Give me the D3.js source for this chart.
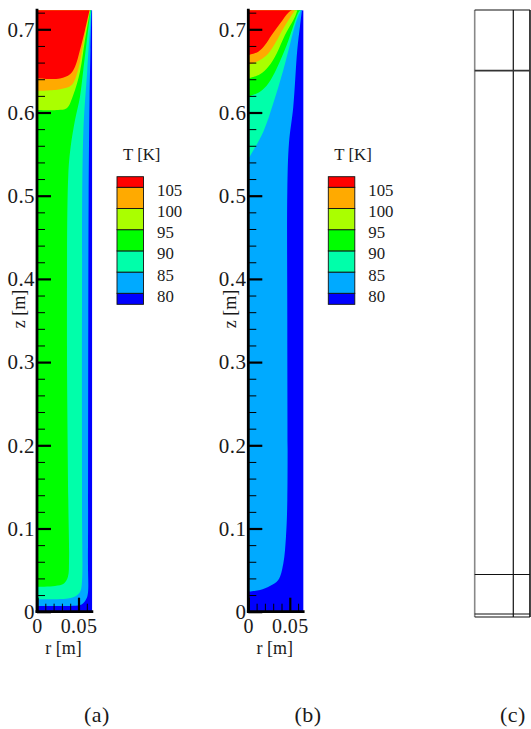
<!DOCTYPE html>
<html>
<head>
<meta charset="utf-8">
<script src="https://cdn.jsdelivr.net/npm/d3@7"></script>
<style>
    html, body { margin: 0; background: #fff; }
    svg { display: block; }
    text { font-family: "Liberation Serif", serif; fill: #1a1a1a; }
    .axis text { font-size: 20px; letter-spacing: 0.4px; }
    .axis .domain { stroke: #000; stroke-width: 2.8; }
    .major line { stroke: #000; stroke-width: 2.2; }
    .minor line { stroke: #000; stroke-width: 1; }
    .z-axis text { font-size: 21px; }
    .title { font-size: 18px; }
    .legend text { font-size: 16.8px; }
    .caption { font-size: 22px; letter-spacing: 0.5px; }
</style>
</head>
<body>
<svg id="chart" width="531" height="729"></svg>
<script>
// temperature levels and fills, lowest band first
const levels = [80, 85, 90, 95, 100, 105];
const legendEdges = [77.4, 80, 85, 90, 95, 100, 105, 107.5];
const bandColors = ["#0000ff", "#00aaff", "#00ffaa", "#00ff00", "#aaff00", "#ffaa00", "#ff0000"];

const zMajor = [0, 0.1, 0.2, 0.3, 0.4, 0.5, 0.6, 0.7];
const zMinor = [0.02, 0.04, 0.06, 0.08, 0.12, 0.14, 0.16, 0.18, 0.22, 0.24, 0.26, 0.28, 0.32, 0.34, 0.36, 0.38,
    0.42, 0.44, 0.46, 0.48, 0.52, 0.54, 0.56, 0.58, 0.62, 0.64, 0.66, 0.68, 0.72];
const rMajor = [0, 0.05];
const rMinor = [0.01, 0.02, 0.03, 0.04, 0.06];

// contour edges [r, z], from the axis to the top of the domain
const caseA = [
    [[0, 0.007], [0.04, 0.007], [0.052, 0.008], [0.058, 0.013], [0.061, 0.02], [0.0614, 0.062], [0.0618, 0.351], [0.0622, 0.495], [0.0633, 0.615], [0.0645, 0.675], [0.0657, 0.723]],
    [[0, 0.015], [0.0373, 0.016], [0.047, 0.019], [0.052, 0.024], [0.0539, 0.032], [0.0542, 0.134], [0.0542, 0.363], [0.0558, 0.575], [0.0606, 0.651], [0.0654, 0.723]],
    [[0, 0.03], [0.0217, 0.031], [0.0325, 0.034], [0.0373, 0.042], [0.0386, 0.062], [0.0377, 0.134], [0.0361, 0.351], [0.0377, 0.525], [0.0406, 0.559], [0.0458, 0.591], [0.0518, 0.619], [0.0558, 0.651], [0.0645, 0.723]],
    [[0, 0.603], [0.0253, 0.603], [0.0358, 0.605], [0.0437, 0.621], [0.0518, 0.649], [0.0578, 0.687], [0.0641, 0.723]],
    [[0, 0.626], [0.0277, 0.628], [0.0418, 0.633], [0.0494, 0.651], [0.0554, 0.681], [0.0633, 0.721], [0.0639, 0.723]],
    [[0, 0.641], [0.0277, 0.641], [0.0398, 0.646], [0.0458, 0.655], [0.0518, 0.675], [0.0578, 0.699], [0.0633, 0.723]]
];
const caseB = [
    [[0, 0.024], [0.0141, 0.026], [0.0261, 0.031], [0.0361, 0.038], [0.0422, 0.058], [0.0454, 0.09], [0.047, 0.134], [0.047, 0.351], [0.047, 0.505], [0.049, 0.563], [0.0542, 0.607], [0.059, 0.675], [0.0623, 0.704], [0.0647, 0.723]],
    [[0, 0.544], [0.0181, 0.577], [0.0301, 0.611], [0.0422, 0.651], [0.0583, 0.711], [0.0635, 0.723]],
    [[0, 0.619], [0.0141, 0.625], [0.0241, 0.635], [0.0342, 0.653], [0.0463, 0.681], [0.0602, 0.72], [0.0625, 0.723]],
    [[0, 0.641], [0.0141, 0.646], [0.0241, 0.655], [0.0342, 0.671], [0.0442, 0.693], [0.0563, 0.715], [0.059, 0.723]],
    [[0, 0.657], [0.0141, 0.663], [0.0241, 0.671], [0.0322, 0.683], [0.0422, 0.701], [0.0542, 0.72], [0.0565, 0.723]],
    [[0, 0.669], [0.012, 0.673], [0.0201, 0.681], [0.0282, 0.693], [0.0383, 0.707], [0.0482, 0.72], [0.0522, 0.723]]
];

// mesh lines of panel (c)
const gridR = [0, 0.0465, 0.0666];
const gridZ = [0, 0.0036, 0.051, 0.6566, 0.7296];

const rMax = 0.0666, zTop = 0.723;
const svg = d3.select("#chart");

function drawPanel(x0, edges, caption, captionX, clipId) {
    const x = d3.scaleLinear().domain([0, rMax]).range([x0, x0 + rMax * 830]);
    const y = d3.scaleLinear().domain([0, zTop]).range([611.7, 611.7 - zTop * 832]);
    const g = svg.append("g");
    const line = d3.line().x(d => x(d[0])).y(d => y(d[1]));

    g.append("clipPath").attr("id", clipId).append("rect")
        .attr("x", x(0)).attr("y", y(zTop))
        .attr("width", x(rMax) - x(0)).attr("height", y(0) - y(zTop));
    const field = g.append("g").attr("clip-path", `url(#${clipId})`);

    field.append("rect")
        .attr("x", x(0)).attr("y", y(zTop))
        .attr("width", x(rMax) - x(0)).attr("height", y(0) - y(zTop))
        .attr("fill", bandColors[0]);

    // each band covers everything above its own edge, hotter ones paint over it
    edges.forEach((edge, i) => {
        const last = edge[edge.length - 1];
        const closing = d3.line().x(d => x(d[0])).y(d => y(d[1]))([[last[0], 0.76], [0, 0.76]]).replace("M", "L");
        field.append("path")
            .attr("d", line.curve(d3.curveCatmullRom.alpha(0.5))(edge) + closing + "Z")
            .attr("fill", bandColors[i + 1]);
    });

    // minor ticks first, the labelled axis sits on top
    g.append("g").attr("class", "axis minor")
        .attr("transform", `translate(${x(0)},0)`)
        .call(d3.axisLeft(y).tickValues(zMinor).tickSize(-8).tickSizeOuter(0).tickFormat(""))
        .select(".domain").remove();
    g.append("g").attr("class", "axis minor")
        .attr("transform", `translate(0,${y(0)})`)
        .call(d3.axisBottom(x).tickValues(rMinor).tickSize(-8).tickSizeOuter(0).tickFormat(""))
        .select(".domain").remove();

    const zAxis = g.append("g").attr("class", "axis major z-axis")
        .attr("transform", `translate(${x(0)},0)`)
        .call(d3.axisLeft(y).tickValues(zMajor).tickSize(-14).tickSizeOuter(0).tickPadding(3)
            .tickFormat(d => d === 0 ? "0" : d3.format(".1f")(d)));
    zAxis.select(".domain").attr("d", `M0,${y(0) + 1}V${y(zTop) - 1.5}`);
    zAxis.selectAll("text").attr("x", -2);

    const rAxis = g.append("g").attr("class", "axis major")
        .attr("transform", `translate(0,${y(0)})`)
        .call(d3.axisBottom(x).tickValues(rMajor).tickSize(-14).tickSizeOuter(0)
            .tickFormat(d => d === 0 ? "0" : String(d)));
    rAxis.select(".domain").attr("d", `M${x(0) - 1.4},0H${x(rMax) + 1}`);
    rAxis.selectAll("text").attr("y", 7).attr("dy", "0.71em");

    g.append("text").attr("class", "title")
        .attr("x", x0 + 26.5).attr("y", 654).attr("text-anchor", "middle")
        .text("r [m]");
    g.append("text").attr("class", "title")
        .attr("transform", `translate(${x0 - 12},309) rotate(-90)`)
        .attr("text-anchor", "middle")
        .text("z [m]");
    svg.append("text").attr("class", "caption")
        .attr("x", captionX).attr("y", 722).attr("text-anchor", "middle")
        .text(caption);

    // legend
    const t = d3.scaleLinear().domain([80, 105]).range([293.3, 187.3]);
    const legend = g.append("g").attr("class", "legend")
        .attr("transform", `translate(${x0 - 37},0)`);
    legend.selectAll("rect").data(bandColors).join("rect")
        .attr("x", 117).attr("width", 26.5)
        .attr("y", (d, i) => t(legendEdges[i + 1]))
        .attr("height", (d, i) => t(legendEdges[i]) - t(legendEdges[i + 1]))
        .attr("fill", d => d)
        .attr("stroke", "#111").attr("stroke-width", 0.9);
    legend.selectAll("text.level").data(levels).join("text")
        .attr("class", "level")
        .attr("x", 157).attr("y", d => t(d) + 8.5)
        .text(d => d);
    legend.append("text")
        .attr("x", 123).attr("y", 160)
        .text("T [K]");
}

function drawMesh() {
    const x = d3.scaleLinear().domain([0, 0.0666]).range([474.7, 474.7 + 0.0666 * 830]);
    const y = d3.scaleLinear().domain([0, 0.7296]).range([617, 617 - 0.7296 * 832]);
    const g = svg.append("g");

    g.selectAll("line.v").data(gridR).join("line")
        .attr("class", "v")
        .attr("x1", d => x(d)).attr("x2", d => x(d))
        .attr("y1", y(0)).attr("y2", y(0.7296))
        .attr("stroke", (d, i) => i === 0 ? "#888" : "#111")
        .attr("stroke-width", (d, i) => i === 1 ? 1.2 : 1.6);
    g.selectAll("line.h").data(gridZ).join("line")
        .attr("class", "h")
        .attr("x1", x(0)).attr("x2", x(0.0666))
        .attr("y1", d => y(d)).attr("y2", d => y(d))
        .attr("stroke", (d, i) => i === 3 ? "#333" : "#111")
        .attr("stroke-width", (d, i) => i === 3 ? 1.8 : 1.1);

    svg.append("text").attr("class", "caption")
        .attr("x", 513).attr("y", 722).attr("text-anchor", "middle")
        .text("(c)");
}

drawPanel(37, caseA, "(a)", 97, "clip-a");
drawPanel(248.3, caseB, "(b)", 308, "clip-b");
drawMesh();
</script>
</body>
</html>
